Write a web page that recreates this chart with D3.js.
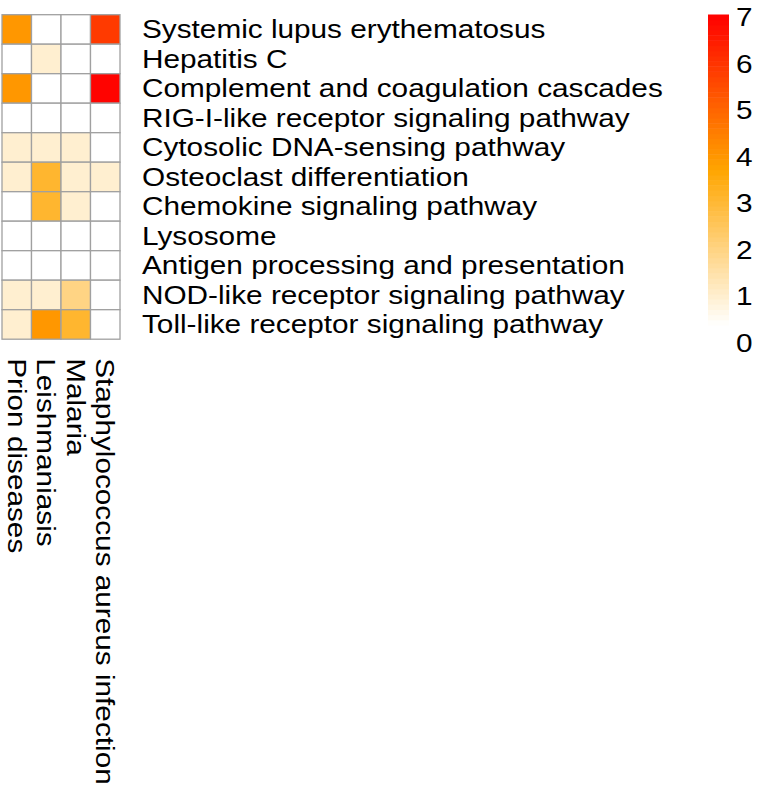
<!DOCTYPE html>
<html>
<head>
<meta charset="utf-8">
<script src="https://cdn.jsdelivr.net/npm/d3@7"></script>
<style>
  body { margin: 0; background: #fff; }
  text { font-family: "Liberation Sans", Arial, Helvetica, sans-serif; fill: #000; font-size: 25px; }
</style>
</head>
<body>
<script>
// pathways (rows) and diseases (columns)
const pathways = [
  'Systemic lupus erythematosus',
  'Hepatitis C',
  'Complement and coagulation cascades',
  'RIG-I-like receptor signaling pathway',
  'Cytosolic DNA-sensing pathway',
  'Osteoclast differentiation',
  'Chemokine signaling pathway',
  'Lysosome',
  'Antigen processing and presentation',
  'NOD-like receptor signaling pathway',
  'Toll-like receptor signaling pathway',
];
const diseases = ['Prion diseases', 'Leishmaniasis', 'Malaria', 'Staphylococcus aureus infection'];

// one array per disease column, values in pathway order
const prionValues = [3.8, 0, 3.8, 0, 0.7, 0.7, 0, 0, 0, 0.7, 0.7];
const leishValues = [0, 0.7, 0, 0, 0.7, 2.9, 2.9, 0, 0, 0.7, 3.8];
const malariaValues = [0, 0, 0, 0, 0.7, 0.7, 0.7, 0, 0, 1.7, 2.9];
const staphValues = [5.8, 0, 7, 0, 0, 0.7, 0, 0, 0, 0, 0];
const columnValues = [prionValues, leishValues, malariaValues, staphValues];

const legendTicks = [0, 1, 2, 3, 4, 5, 6, 7];
const maxValue = 7;
const nBands = 60;

const width = 762;
const height = 789;
const cell = 29.5;
const gridLeft = 2;
const gridTop = 14.7;
const stretch = 1.19; // the original font runs wider than Liberation Sans

const svg = d3.select('body').append('svg')
  .attr('width', width)
  .attr('height', height);

// white -> orange -> red, banded like pheatmap's break palette
const ramp = d3.scaleLinear()
  .domain([0, maxValue / 2, maxValue])
  .range(['#ffffff', '#ffa500', '#ff0000'])
  .interpolate(d3.interpolateRgb);
const color = v => {
  if (v === 0) return '#ffffff';
  const band = Math.min(nBands - 1, Math.floor(v / maxValue * nBands));
  return ramp((band + 0.5) * maxValue / nBands);
};

const x = d3.scaleBand().domain(diseases).range([gridLeft, gridLeft + cell * diseases.length]);
const y = d3.scaleBand().domain(pathways).range([gridTop, gridTop + cell * pathways.length]);

const cells = [];
diseases.forEach((dis, j) => {
  pathways.forEach((p, i) => {
    cells.push({ disease: dis, pathway: p, value: columnValues[j][i] });
  });
});

svg.append('g')
  .selectAll('rect').data(cells)
  .enter().append('rect')
    .attr('x', d => x(d.disease))
    .attr('y', d => y(d.pathway))
    .attr('width', x.bandwidth())
    .attr('height', y.bandwidth())
    .attr('fill', d => color(d.value))
    .attr('stroke', '#a0a0a0')
    .attr('stroke-width', 1.3);

// row labels
svg.append('g')
  .selectAll('text').data(pathways)
  .enter().append('text')
    .attr('transform', d => `translate(${gridLeft + cell * diseases.length + 22},${y(d) + y.bandwidth() / 2}) scale(${stretch},1)`)
    .attr('dy', '0.36em')
    .text(d => d);

// column labels, rotated to read downward
svg.append('g')
  .selectAll('text').data(diseases)
  .enter().append('text')
    .attr('transform', d => `translate(${x(d) + x.bandwidth() / 2},${gridTop + cell * pathways.length + 19}) rotate(90) scale(${stretch},1)`)
    .attr('dy', '0.36em')
    .text(d => d);

// legend
const legendX = 708;
const legendW = 21;
const barY = d3.scaleLinear().domain([0, maxValue]).range([325, 14.5]);
const bandStep = maxValue / nBands;
const legend = svg.append('g');
legend.selectAll('rect').data(d3.range(nBands))
  .enter().append('rect')
    .attr('x', legendX)
    .attr('y', b => barY((b + 1) * bandStep))
    .attr('width', legendW)
    .attr('height', b => barY(b * bandStep) - barY((b + 1) * bandStep) + 0.5)
    .attr('fill', b => ramp((b + 0.5) * bandStep));

const labelY = d3.scaleLinear().domain([0, maxValue]).range([343, 17]);
legend.selectAll('text').data(legendTicks)
  .enter().append('text')
    .attr('transform', d => `translate(736,${labelY(d)}) scale(${stretch},1)`)
    .attr('dy', '0.36em')
    .text(d => d);
</script>
</body>
</html>
